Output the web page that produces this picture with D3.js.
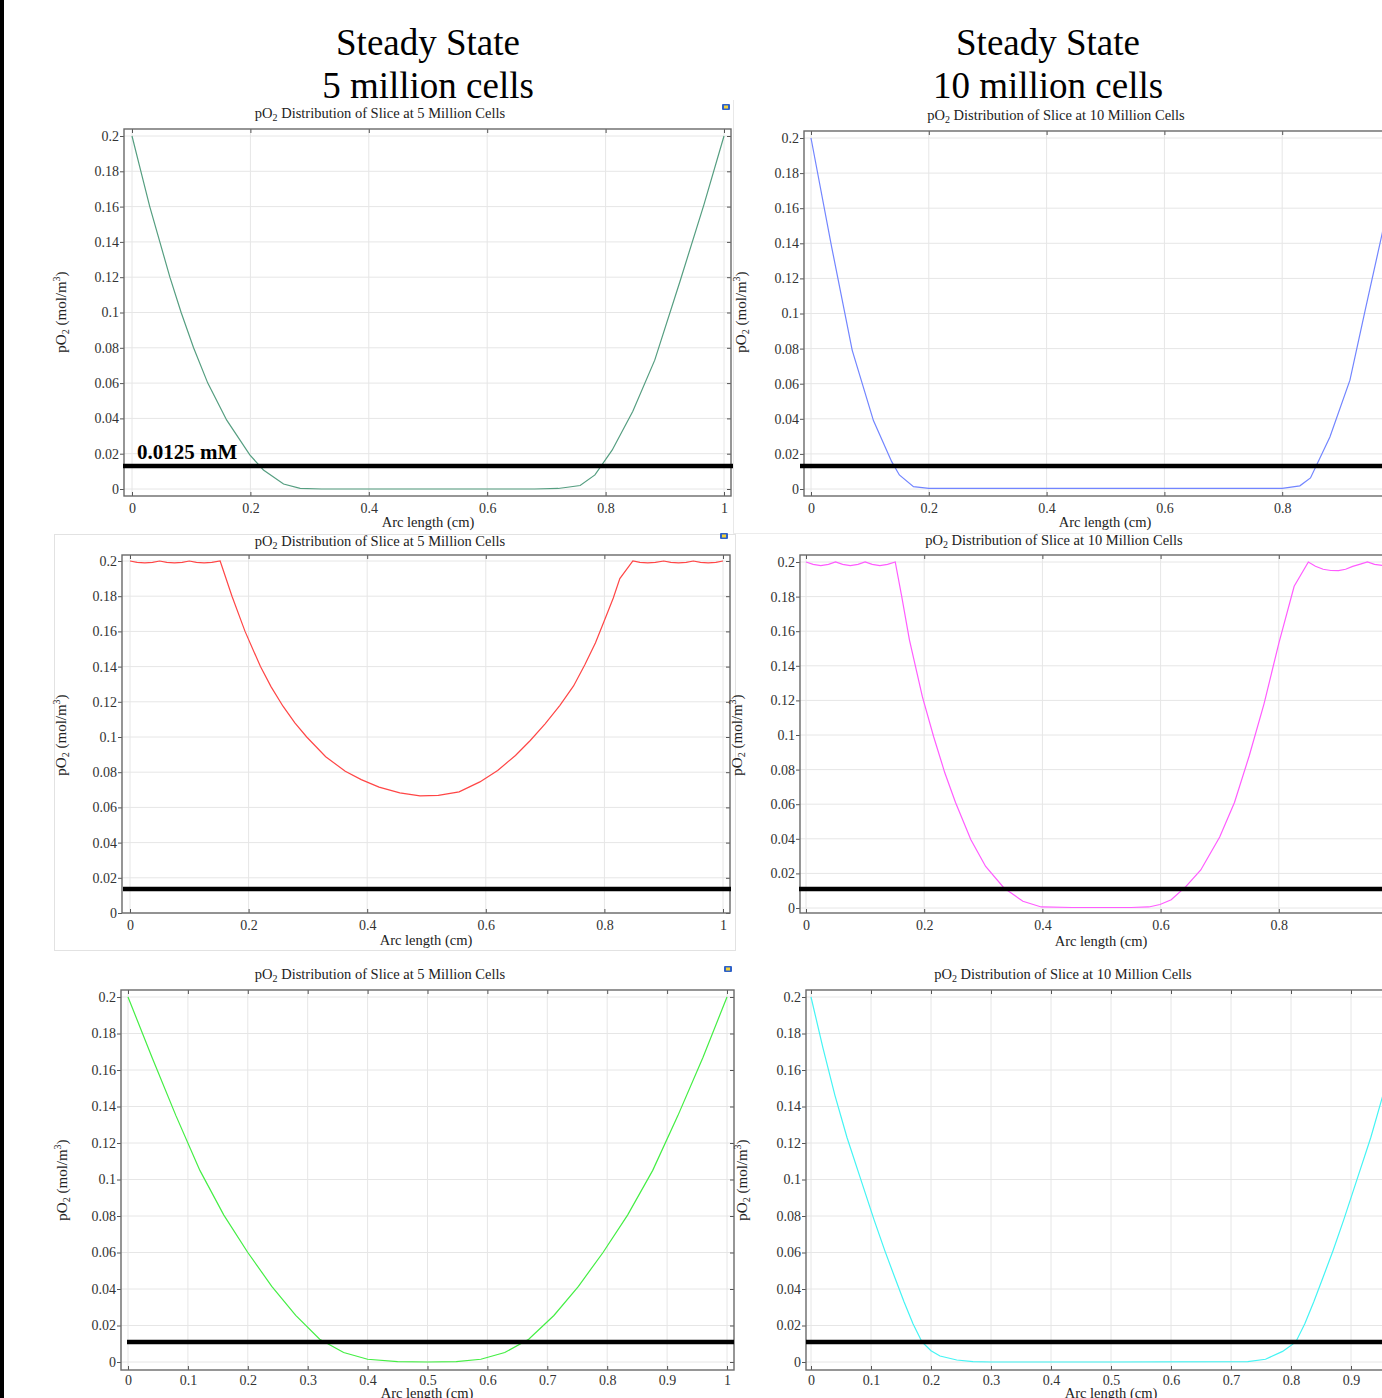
<!DOCTYPE html>
<html>
<head>
<meta charset="utf-8">
<script src="https://cdn.jsdelivr.net/npm/d3@7"></script>
<style>
  body { margin: 0; background: #fff; }
  svg text { font-family: "Liberation Serif", "Times New Roman", serif; }
</style>
</head>
<body>
<svg id="chart" width="1382" height="1398"></svg>
<script>
// ---- data ----
const xTicksCoarse = [0, 0.2, 0.4, 0.6, 0.8, 1];
const xTicksFine = [0, 0.1, 0.2, 0.3, 0.4, 0.5, 0.6, 0.7, 0.8, 0.9, 1];
const yTicks = [0, 0.02, 0.04, 0.06, 0.08, 0.1, 0.12, 0.14, 0.16, 0.18, 0.2];

const headingLines = [['Steady State', '5 million cells'], ['Steady State', '10 million cells']];
const plotTitles = ['5 Million Cells', '10 Million Cells', '5 Million Cells', '10 Million Cells', '5 Million Cells', '10 Million Cells'];
const thresholdLabel = '0.0125 mM';
// threshold bar height per panel (mol/m3), as drawn
const thresholds = [0.013, 0.0131, 0.0136, 0.011, 0.011, 0.011];

// top row
const arc5Top = [0, 0.015, 0.03, 0.047, 0.064, 0.083, 0.104, 0.128, 0.16, 0.199, 0.222, 0.256, 0.284, 0.32, 0.5, 0.68, 0.72, 0.757, 0.782, 0.811, 0.846, 0.883, 0.926, 0.966, 1];
const po5Top  = [0.2, 0.18, 0.16, 0.14, 0.12, 0.1, 0.08, 0.06, 0.039, 0.0193, 0.0108, 0.0028, 0.0004, 0, 0, 0, 0.0003, 0.002, 0.008, 0.022, 0.044, 0.073, 0.118, 0.161, 0.2];

const arc10Top = [0, 0.035, 0.07, 0.106, 0.137, 0.15, 0.174, 0.2, 0.5, 0.8, 0.83, 0.848, 0.881, 0.915, 0.941, 0.97, 1];
const po10Top  = [0.2, 0.138, 0.079, 0.039, 0.0156, 0.008, 0.0013, 0.0004, 0.0003, 0.0004, 0.0018, 0.0063, 0.0296, 0.062, 0.102, 0.146, 0.2];

// middle row
const arc5Mid = [0, 0.012, 0.025, 0.038, 0.05, 0.062, 0.075, 0.088, 0.1, 0.112, 0.125, 0.138, 0.152,
  0.172, 0.194, 0.22, 0.238, 0.258, 0.278, 0.298, 0.33, 0.363, 0.39, 0.42, 0.455, 0.489, 0.52, 0.555, 0.59, 0.62, 0.65, 0.675, 0.7, 0.725, 0.748, 0.767, 0.785, 0.801, 0.815, 0.826, 0.848,
  0.86, 0.873, 0.886, 0.9, 0.912, 0.925, 0.938, 0.95, 0.962, 0.975, 0.988, 1];
const po5Mid  = [0.2, 0.1992, 0.1989, 0.1992, 0.2, 0.1992, 0.1989, 0.1992, 0.2, 0.1992, 0.1989, 0.1992, 0.2,
  0.18, 0.16, 0.14, 0.1285, 0.1175, 0.108, 0.1, 0.0888, 0.0805, 0.0758, 0.0715, 0.0683, 0.0665, 0.0668, 0.0688, 0.0745, 0.081, 0.0895, 0.098, 0.1075, 0.118, 0.129, 0.141, 0.1535, 0.167, 0.179, 0.19, 0.2,
  0.1992, 0.1989, 0.1992, 0.2, 0.1992, 0.1989, 0.1992, 0.2, 0.1992, 0.1989, 0.1992, 0.2];

const arc10Mid = [0, 0.012, 0.025, 0.038, 0.05, 0.062, 0.075, 0.088, 0.1, 0.112, 0.125, 0.138, 0.151,
  0.162, 0.175, 0.197, 0.216, 0.235, 0.253, 0.279, 0.304, 0.335, 0.367, 0.398, 0.45, 0.55, 0.58, 0.599, 0.618, 0.643, 0.668, 0.7, 0.725, 0.75, 0.775, 0.8, 0.826, 0.85,
  0.862, 0.875, 0.888, 0.901, 0.913, 0.925, 0.938, 0.95, 0.962, 0.975, 0.988, 1];
const po10Mid  = [0.2, 0.1986, 0.1979, 0.1986, 0.2, 0.1986, 0.1979, 0.1986, 0.2, 0.1986, 0.1979, 0.1986, 0.2,
  0.18, 0.155, 0.122, 0.099, 0.078, 0.061, 0.0395, 0.024, 0.0116, 0.0039, 0.0006, 0.0003, 0.0003, 0.0006, 0.002, 0.0048, 0.0125, 0.022, 0.041, 0.061, 0.088, 0.118, 0.153, 0.186, 0.2,
  0.1975, 0.1958, 0.1951, 0.195, 0.1958, 0.1975, 0.1988, 0.2, 0.1986, 0.198, 0.1986, 0.2];

// bottom row
const arc5Bot = [0, 0.04, 0.08, 0.12, 0.16, 0.2, 0.24, 0.28, 0.32, 0.36, 0.4, 0.45, 0.5,
  0.548, 0.589, 0.629, 0.669, 0.711, 0.752, 0.793, 0.834, 0.876, 0.918, 0.96, 1];
const po5Bot  = [0.2, 0.167, 0.135, 0.105, 0.0805, 0.06, 0.0415, 0.0255, 0.0125, 0.0052, 0.0015, 0.0002, 0,
  0.0002, 0.0015, 0.0052, 0.0125, 0.0255, 0.0415, 0.06, 0.0805, 0.105, 0.135, 0.167, 0.2];

const arc10Bot = [0, 0.02, 0.04, 0.06, 0.085, 0.105, 0.123, 0.14, 0.155, 0.17, 0.185, 0.2, 0.215, 0.243, 0.27, 0.3, 0.5, 0.728, 0.7575, 0.786, 0.808, 0.823, 0.838, 0.853, 0.87, 0.888, 0.908, 0.933, 0.953, 0.973, 0.993];
const po10Bot  = [0.2, 0.172, 0.146, 0.123, 0.098, 0.078, 0.061, 0.046, 0.033, 0.021, 0.011, 0.0062, 0.0033, 0.0011, 0.0002, 0, 0, 0.0002, 0.0015, 0.0058, 0.011, 0.021, 0.033, 0.046, 0.061, 0.078, 0.098, 0.123, 0.146, 0.172, 0.2];

// ---- layout ----
const panels = [
  { arc: arc5Top, po: po5Top, color: '#559e80', box: {l: 124, t: 129, r: 731, b: 496}, xr: [132, 724], yr: [489, 136], xt: xTicksCoarse,
    title: [380, 118], yTitle: [66, 312], xTitle: [428, 527], pad: 7, bar: [123, 733], icon: [722, 104] },
  { arc: arc10Top, po: po10Top, color: '#7285ff', box: {l: 804, t: 131, r: 1405, b: 496}, xr: [811, 1400], yr: [489, 138], xt: xTicksCoarse,
    title: [1056, 120], yTitle: [746, 312], xTitle: [1105, 527], pad: 7, bar: [800, 1382] },
  { arc: arc5Mid, po: po5Mid, color: '#ff4646', box: {l: 122, t: 555, r: 730, b: 913}, xr: [130, 723], yr: [913, 561], xt: xTicksCoarse,
    title: [380, 546], yTitle: [66, 735], xTitle: [426, 945], pad: 7, bar: [123, 731], icon: [720, 533] },
  { arc: arc10Mid, po: po10Mid, color: '#ff5cff', box: {l: 800, t: 555, r: 1405, b: 913}, xr: [806, 1397], yr: [908, 562], xt: xTicksCoarse,
    title: [1054, 545], yTitle: [742, 735], xTitle: [1101, 946], pad: 7, bar: [799, 1382] },
  { arc: arc5Bot, po: po5Bot, color: '#44ee44', box: {l: 121, t: 990, r: 734, b: 1370}, xr: [128, 727], yr: [1362, 997], xt: xTicksFine,
    title: [380, 979], yTitle: [67, 1180], xTitle: [427, 1398], pad: 5, bar: [127, 734], icon: [724, 966] },
  { arc: arc10Bot, po: po10Bot, color: '#44f4f4', box: {l: 806, t: 990, r: 1415, b: 1370}, xr: [811, 1411], yr: [1362, 997], xt: xTicksFine,
    title: [1063, 979], yTitle: [747, 1180], xTitle: [1111, 1398], pad: 5, bar: [806, 1382] }
];

const svg = d3.select('#chart');
const fmt = d3.format('~g');
const W = 1382;

// left black edge
svg.append('rect').attr('x', 0).attr('y', 0).attr('width', 4).attr('height', 1398).attr('fill', '#000');

// faint frames of the pasted figures
svg.append('rect').attr('x', 54.5).attr('y', 534.5).attr('width', 681).attr('height', 416)
  .attr('fill', 'none').attr('stroke', '#e2e2e2');
svg.append('line').attr('x1', 733.5).attr('x2', 733.5).attr('y1', 100).attr('y2', 533)
  .attr('stroke', '#e8e8e8');
svg.append('line').attr('x1', 733).attr('x2', W).attr('y1', 533.5).attr('y2', 533.5)
  .attr('stroke', '#ececec');

// headings
headingLines.forEach((lines, i) => {
  const cx = i === 0 ? 428 : 1048;
  lines.forEach((s, j) => {
    svg.append('text').attr('x', cx).attr('y', 55 + j * 43)
      .attr('text-anchor', 'middle').attr('font-size', 37).attr('fill', '#000').text(s);
  });
});

function drawPanel(p, i) {
  const g = svg.append('g');
  const x = d3.scaleLinear().domain([0, 1]).range(p.xr);
  const y = d3.scaleLinear().domain([0, 0.2]).range(p.yr);
  const {l, t, r, b} = p.box;
  const xt = p.xt.filter(d => x(d) >= l && x(d) <= Math.min(r, W - 6));

  // grid
  g.selectAll('.vg').data(xt).enter().append('line')
    .attr('x1', d => x(d)).attr('x2', d => x(d)).attr('y1', t).attr('y2', b)
    .attr('stroke', '#e6e6e6').attr('stroke-width', 1);
  g.selectAll('.hg').data(yTicks).enter().append('line')
    .attr('x1', l).attr('x2', r).attr('y1', d => y(d)).attr('y2', d => y(d))
    .attr('stroke', '#e6e6e6').attr('stroke-width', 1);

  // curve
  const clipId = 'clip' + i;
  g.append('clipPath').attr('id', clipId).append('rect')
    .attr('x', l).attr('y', t).attr('width', r - l).attr('height', b - t);
  const pts = p.arc.map((a, k) => [a, p.po[k]]);
  g.append('path').datum(pts)
    .attr('clip-path', `url(#${clipId})`)
    .attr('fill', 'none').attr('stroke', p.color).attr('stroke-width', 1.2)
    .attr('d', d3.line().x(d => x(d[0])).y(d => y(d[1])));

  // axes
  const axisStyle = sel => {
    sel.attr('font-size', 14).attr('font-family', '"Liberation Serif", "Times New Roman", serif').attr('color', '#555');
    sel.select('.domain').remove();
    sel.selectAll('text').attr('fill', '#333');
  };
  g.append('g').attr('transform', `translate(${l},0)`)
    .call(d3.axisLeft(y).tickValues(yTicks).tickSize(4).tickPadding(1).tickFormat(fmt)).call(axisStyle);
  g.append('g').attr('transform', `translate(0,${b})`)
    .call(d3.axisBottom(x).tickValues(xt).tickSize(-4).tickPadding(p.pad).tickFormat(fmt)).call(axisStyle);
  g.append('g').attr('transform', `translate(0,${t})`)
    .call(d3.axisTop(x).tickValues(xt).tickSize(-4).tickFormat('')).call(axisStyle);
  g.append('g').attr('transform', `translate(${r},0)`)
    .call(d3.axisRight(y).tickValues(yTicks).tickSize(-4).tickFormat('')).call(axisStyle);

  // frame
  g.append('rect').attr('x', l).attr('y', t).attr('width', r - l).attr('height', b - t)
    .attr('fill', 'none').attr('stroke', '#6a6a6a').attr('stroke-width', 1.4);

  // title
  const tt = g.append('text').attr('x', p.title[0]).attr('y', p.title[1])
    .attr('text-anchor', 'middle').attr('font-size', 14.5).attr('fill', '#222');
  tt.append('tspan').text('pO');
  tt.append('tspan').attr('font-size', 10).attr('dy', 3).text('2');
  tt.append('tspan').attr('dy', -3).text(' Distribution of Slice at ' + plotTitles[i]);

  // y title
  const yt = g.append('text').attr('transform', `translate(${p.yTitle[0]},${p.yTitle[1]}) rotate(-90)`)
    .attr('text-anchor', 'middle').attr('font-size', 15).attr('fill', '#222');
  yt.append('tspan').text('pO');
  yt.append('tspan').attr('font-size', 10).attr('dy', 3).text('2');
  yt.append('tspan').attr('dy', -3).text(' (mol/m');
  yt.append('tspan').attr('font-size', 10).attr('dy', -6).text('3');
  yt.append('tspan').attr('dy', 6).text(')');

  // x title
  g.append('text').attr('x', p.xTitle[0]).attr('y', p.xTitle[1])
    .attr('text-anchor', 'middle').attr('font-size', 14.5).attr('fill', '#222').text('Arc length (cm)');

  // threshold bar
  g.append('line').attr('x1', p.bar[0]).attr('x2', p.bar[1])
    .attr('y1', y(thresholds[i])).attr('y2', y(thresholds[i]))
    .attr('stroke', '#000').attr('stroke-width', 4.5);

  // small toolbar icon
  if (p.icon) {
    g.append('rect').attr('x', p.icon[0]).attr('y', p.icon[1]).attr('width', 8).attr('height', 6)
      .attr('rx', 1).attr('fill', '#2f62c8');
    g.append('rect').attr('x', p.icon[0] + 2).attr('y', p.icon[1] + 1.5).attr('width', 4).attr('height', 3)
      .attr('fill', '#f2d23c');
  }
}

panels.forEach(drawPanel);

// threshold label
svg.append('text').attr('x', 137).attr('y', 459)
  .attr('font-size', 21).attr('font-weight', 'bold').attr('fill', '#000').text(thresholdLabel);
</script>
</body>
</html>
